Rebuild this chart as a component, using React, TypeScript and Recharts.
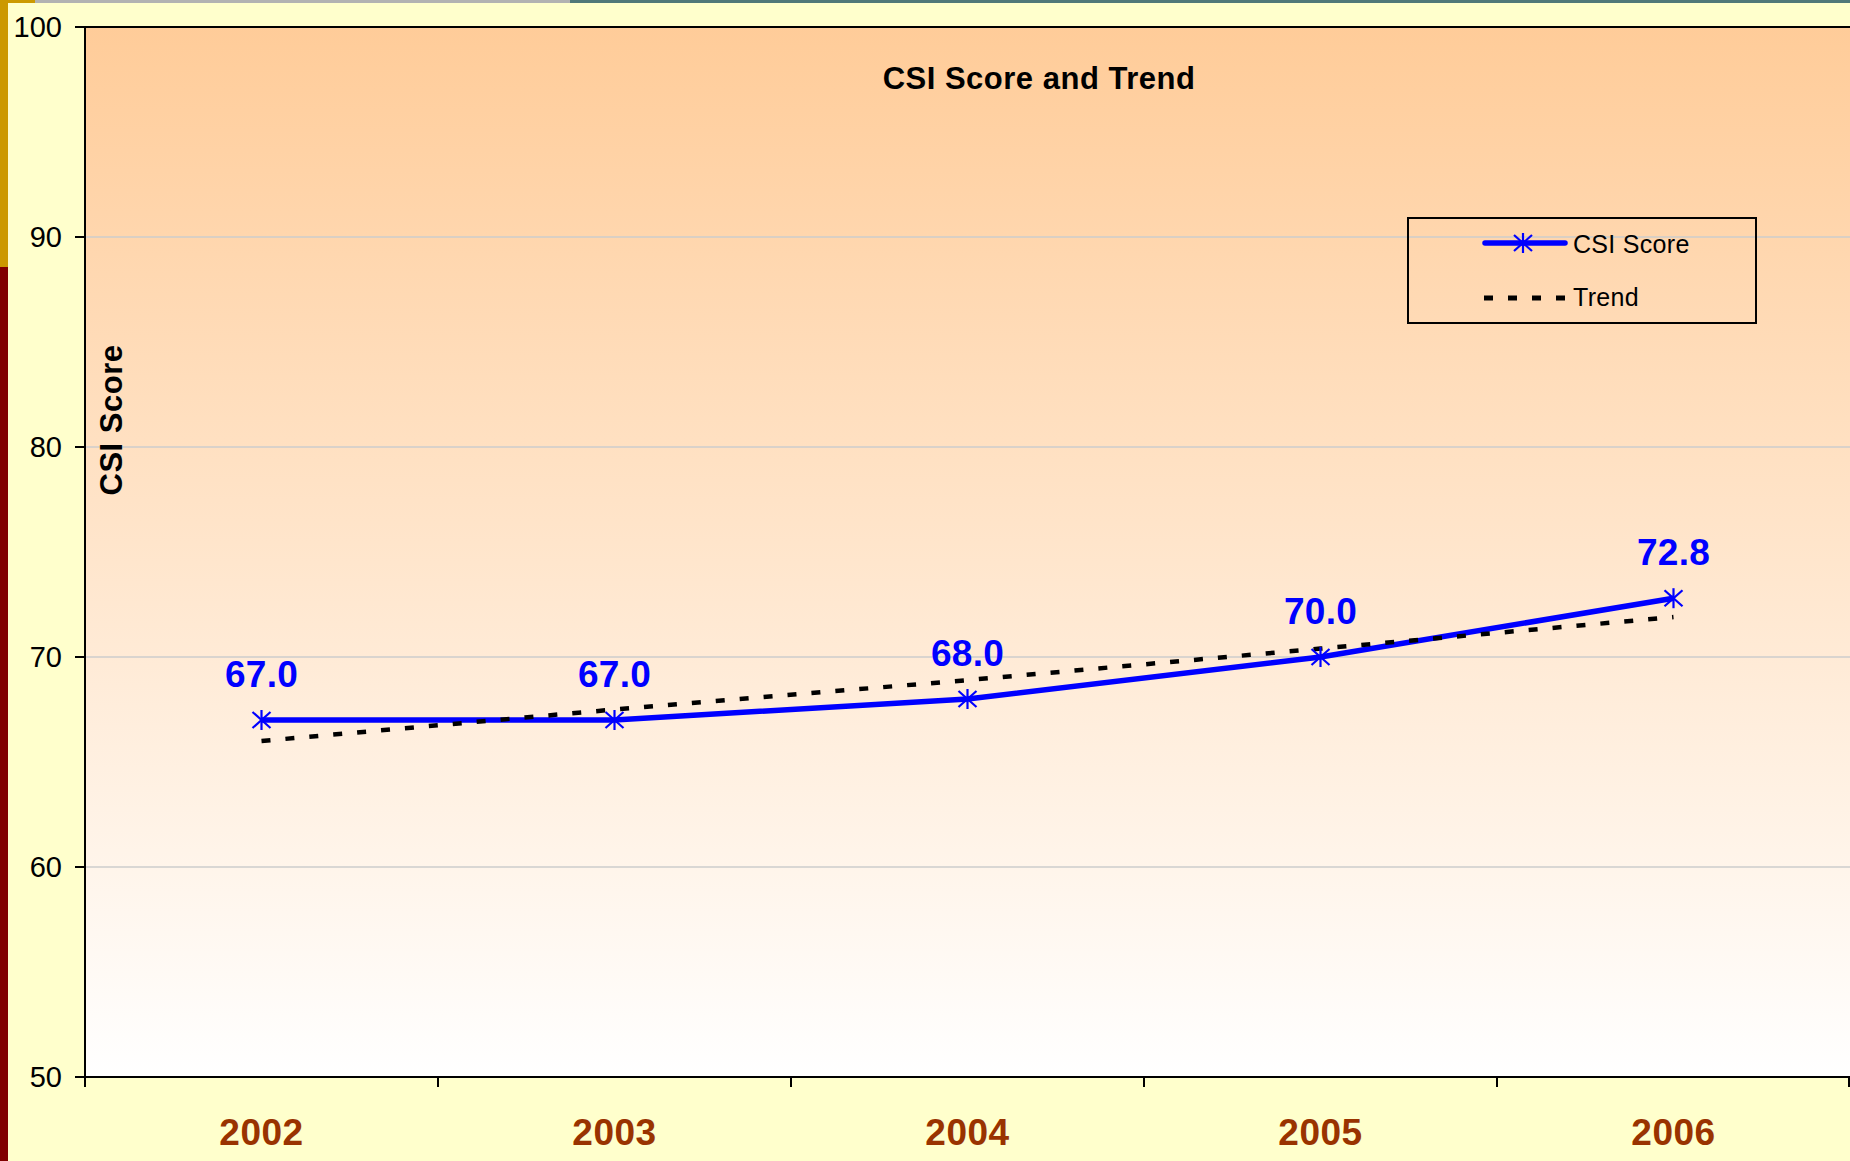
import React from 'react';
import { LineChart, Line, XAxis, YAxis, CartesianGrid, Legend, ReferenceLine, LabelList } from 'recharts';

// ---- data ----
const years = ['2002', '2003', '2004', '2005', '2006'];
const csiScores = [67.0, 67.0, 68.0, 70.0, 72.8];
const trendValues = [66.0, 67.5, 68.9, 70.4, 71.9];
const yTicks = [50, 60, 70, 80, 90, 100];
const seriesNames = ['CSI Score', 'Trend'];
const chartTitle = 'CSI Score and Trend';
const yAxisTitle = 'CSI Score';

const data = years.map((year, i) => ({ year, score: csiScores[i], trend: trendValues[i] }));

// ---- layout ----
const W = 1850;
const H = 1161;
const PLOT_LEFT = 85;
const PLOT_TOP = 27;
const PLOT_BOTTOM = 1077;
const HALF_BAND = (W - PLOT_LEFT) / years.length / 2;
const FONT = '"Liberation Sans", Arial, Helvetica, sans-serif';
const BLUE = '#0000FF';

const Asterisk = ({ cx, cy }: { cx: number; cy: number }) => (
  <g>
    <line x1={cx} y1={cy - 10} x2={cx} y2={cy + 10} stroke={BLUE} strokeWidth={2.2} />
    <line x1={cx - 9} y1={cy - 8} x2={cx + 9} y2={cy + 8} stroke={BLUE} strokeWidth={2.2} />
    <line x1={cx - 9} y1={cy + 8} x2={cx + 9} y2={cy - 8} stroke={BLUE} strokeWidth={2.2} />
  </g>
);

const YearTick = (props: any) => {
  const { x, payload, index } = props;
  const isLast = index === years.length - 1;
  return (
    <g>
      <line x1={x - HALF_BAND} x2={x - HALF_BAND} y1={PLOT_BOTTOM} y2={PLOT_BOTTOM + 10} stroke="#000" strokeWidth={2} />
      {isLast && (
        <line x1={x + HALF_BAND - 1} x2={x + HALF_BAND - 1} y1={PLOT_BOTTOM} y2={PLOT_BOTTOM + 10} stroke="#000" strokeWidth={2} />
      )}
      <text
        x={x}
        y={1145}
        textAnchor="middle"
        fontFamily={FONT}
        fontWeight="bold"
        fontSize={37}
        letterSpacing={0.5}
        fill="#993300"
      >
        {payload.value}
      </text>
    </g>
  );
};

const ScoreLabel = (props: any) => {
  const x = props.x ?? props.viewBox?.x;
  const y = props.y ?? props.viewBox?.y;
  return (
    <text
      x={x}
      y={y - 33}
      textAnchor="middle"
      fontFamily={FONT}
      fontWeight="bold"
      fontSize={37}
      letterSpacing={0.3}
      fill={BLUE}
    >
      {Number(props.value).toFixed(1)}
    </text>
  );
};

const LegendBox = () => (
  <svg width={350} height={107} style={{ display: 'block' }}>
    <rect x={1} y={1} width={348} height={105} fill="none" stroke="#000" strokeWidth={2} />
    <line x1={78} x2={158} y1={26} y2={26} stroke={BLUE} strokeWidth={5.5} strokeLinecap="round" />
    <Asterisk cx={116} cy={26} />
    <text x={166} y={36} fontFamily={FONT} fontSize={25} letterSpacing={0.3} fill="#000">
      {seriesNames[0]}
    </text>
    <line x1={77} x2={160} y1={81} y2={81} stroke="#000" strokeWidth={5} strokeDasharray="9 15" />
    <text x={166} y={89} fontFamily={FONT} fontSize={25} letterSpacing={0.3} fill="#000">
      {seriesNames[1]}
    </text>
  </svg>
);

export default function App() {
  return (
    <div
      style={{
        position: 'absolute',
        left: 0,
        top: 0,
        width: W,
        height: H,
        background: '#FFFFCC',
        overflow: 'hidden',
      }}
    >
      <div style={{ position: 'absolute', left: 0, top: 0 }}>
        <LineChart width={W} height={H} data={data} margin={{ top: PLOT_TOP, right: 0, bottom: 0, left: 0 }}>
          <defs>
            <linearGradient id="plotBg" x1="0" y1="0" x2="0" y2="1">
              <stop offset="0" stopColor="#FFCC99" />
              <stop offset="1" stopColor="#FFFFFF" />
            </linearGradient>
          </defs>
          <CartesianGrid
            vertical={false}
            fill="url(#plotBg)"
            fillOpacity={1}
            stroke="#CCCCCC"
            strokeWidth={1.5}
          />
          <XAxis
            dataKey="year"
            scale="band"
            height={H - PLOT_BOTTOM}
            interval={0}
            tickLine={false}
            axisLine={{ stroke: '#000', strokeWidth: 2 }}
            tick={(p: any) => <YearTick {...p} />}
          />
          <YAxis
            width={PLOT_LEFT}
            domain={[50, 100]}
            ticks={yTicks}
            interval={0}
            tickSize={10}
            tickMargin={13}
            axisLine={{ stroke: '#000', strokeWidth: 2 }}
            tickLine={{ stroke: '#000', strokeWidth: 2 }}
            tick={{ fontFamily: FONT, fontSize: 29, fill: '#000' }}
          />
          <ReferenceLine y={100} stroke="#000" strokeWidth={2} />
          <Line
            name={seriesNames[0]}
            dataKey="score"
            stroke={BLUE}
            strokeWidth={5.5}
            isAnimationActive={false}
            dot={(p: any) => <Asterisk key={`dot-${p.index}`} cx={p.cx} cy={p.cy} />}
            activeDot={false}
          >
            <LabelList dataKey="score" content={(p: any) => <ScoreLabel {...p} />} />
          </Line>
          <Line
            name={seriesNames[1]}
            dataKey="trend"
            stroke="#000"
            strokeWidth={4.5}
            strokeDasharray="9 15"
            dot={false}
            activeDot={false}
            isAnimationActive={false}
          />
          <Legend
            layout="horizontal"
            verticalAlign="middle"
            align="center"
            wrapperStyle={{ position: 'absolute', left: 1407, top: 217, width: 350, height: 107 }}
            content={() => <LegendBox />}
          />
          <text
            x={1039}
            y={89}
            textAnchor="middle"
            fontFamily={FONT}
            fontWeight="bold"
            fontSize={31}
            letterSpacing={0.5}
            fill="#000"
          >
            {chartTitle}
          </text>
          <text
            x={122}
            y={420}
            textAnchor="middle"
            transform="rotate(-90 122 420)"
            fontFamily={FONT}
            fontWeight="bold"
            fontSize={31}
            letterSpacing={0.5}
            fill="#000"
          >
            {yAxisTitle}
          </text>
        </LineChart>
      </div>
      <div style={{ position: 'absolute', left: 0, top: 0, width: 8, height: 267, background: '#CC9900' }} />
      <div style={{ position: 'absolute', left: 0, top: 267, width: 8, height: H - 267, background: '#800000' }} />
      <div style={{ position: 'absolute', left: 0, top: 0, width: 35, height: 3, background: '#CC9900' }} />
      <div style={{ position: 'absolute', left: 35, top: 0, width: 535, height: 3, background: '#B2B2B2' }} />
      <div style={{ position: 'absolute', left: 570, top: 0, width: W - 570, height: 3, background: '#507878' }} />
    </div>
  );
}
